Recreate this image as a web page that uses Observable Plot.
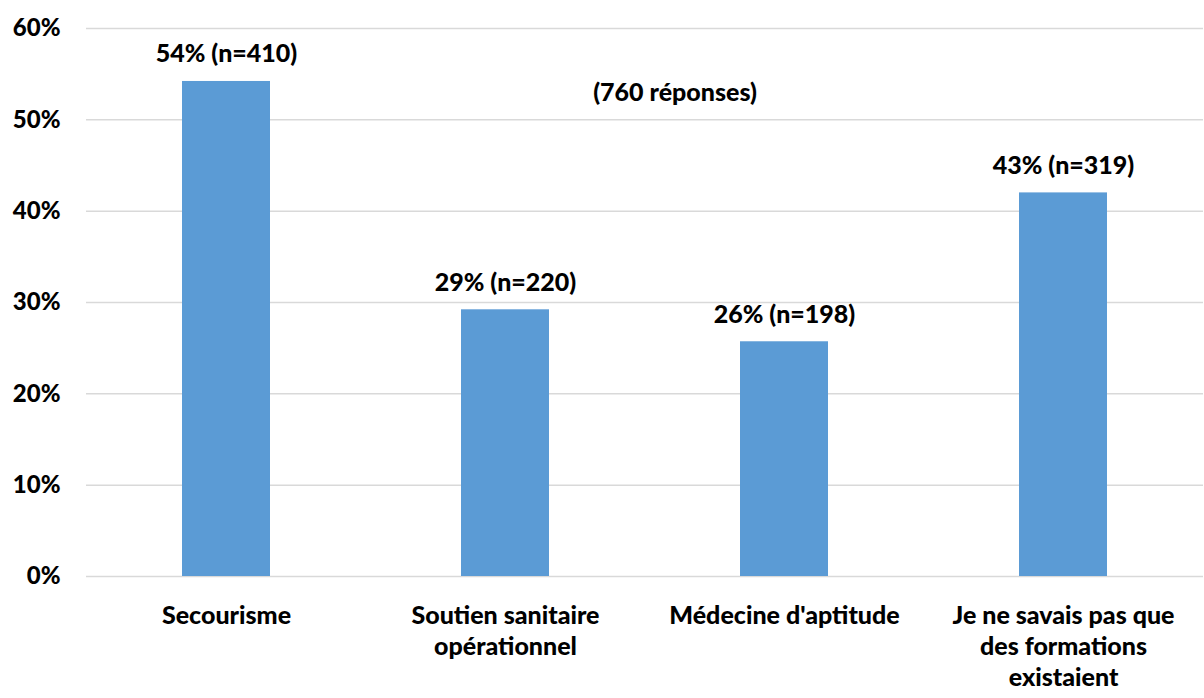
<!DOCTYPE html>
<html>
<head>
<meta charset="utf-8">
<script src="https://cdn.jsdelivr.net/npm/d3@7"></script>
<script src="https://cdn.jsdelivr.net/npm/@observablehq/plot@0.6"></script>
<style>
  html, body { margin: 0; padding: 0; background: #fff; }
  #chart { width: 1204px; height: 698px; }
  svg { font-family: Lato, "Open Sans", sans-serif; font-weight: 900; }
</style>
</head>
<body>
<div id="chart"></div>
<script>
const categories = ["Secourisme", "Soutien sanitaire opérationnel", "Médecine d'aptitude", "Je ne savais pas que des formations existaient"];
const tickLabels = ["Secourisme", "Soutien sanitaire\nopérationnel", "Médecine d'aptitude", "Je ne savais pas que\ndes formations\nexistaient"];
const values = [54.2, 29.2, 25.7, 42.0];
const barLabels = ["54% (n=410)", "29% (n=220)", "26% (n=198)", "43% (n=319)"];
const yTicks = [0, 10, 20, 30, 40, 50, 60];
const note = "(760 réponses)";

const data = categories.map((c, i) => ({cat: c, value: values[i], label: barLabels[i]}));
const tickMap = new Map(categories.map((c, i) => [c, tickLabels[i]]));

const FS = 25;
const W = 900;

const chart = Plot.plot({
  width: 1204,
  height: 698,
  marginLeft: 86,
  marginRight: 1,
  marginTop: 28,
  marginBottom: 122,
  style: {fontFamily: "Lato, 'Open Sans', sans-serif", fontWeight: W, color: "#000", background: "#fff"},
  x: {domain: categories, paddingInner: 0.685, paddingOuter: 0.3425, label: null},
  y: {domain: [0, 60], label: null},
  marks: [
    Plot.gridY(yTicks, {stroke: "#d9d9d9", strokeOpacity: 1, strokeWidth: 1.5}),
    Plot.barY(data, {x: "cat", y: "value", fill: "#5B9BD5"}),
    Plot.text(data, {x: "cat", y: "value", text: "label", dy: -27, fontSize: FS, fontWeight: W, fill: "#000"}),
    Plot.text([note], {frameAnchor: "top", lineAnchor: "middle", dx: 30, dy: 64, text: d => d, fontSize: FS, fontWeight: W, fill: "#000"}),
    Plot.axisY({ticks: yTicks, tickFormat: d => d + "%", tickSize: 0, tickPadding: 26, fontSize: 24, fontWeight: W, label: null}),
    Plot.axisX({tickFormat: d => tickMap.get(d), tickSize: 0, tickPadding: 25, fontSize: FS, fontWeight: W, lineHeight: 1.24, lineAnchor: "top", label: null})
  ]
});
document.getElementById("chart").appendChild(chart);
</script>
</body>
</html>
